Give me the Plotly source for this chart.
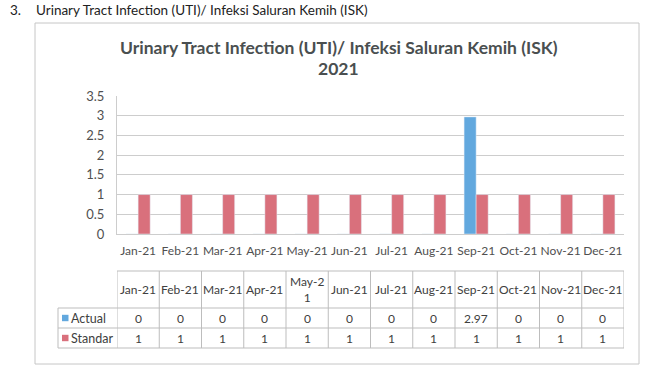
import plotly.graph_objects as go

months = ["Jan-21", "Feb-21", "Mar-21", "Apr-21", "May-21", "Jun-21",
          "Jul-21", "Aug-21", "Sep-21", "Oct-21", "Nov-21", "Dec-21"]
header_labels = ["Jan-21", "Feb-21", "Mar-21", "Apr-21", "May-2<br>1", "Jun-21",
                 "Jul-21", "Aug-21", "Sep-21", "Oct-21", "Nov-21", "Dec-21"]
actual = [0, 0, 0, 0, 0, 0, 0, 0, 2.97, 0, 0, 0]
standar = [1, 1, 1, 1, 1, 1, 1, 1, 1, 1, 1, 1]
series_names = ["Actual", "Standar"]
y_ticks = [0, 0.5, 1, 1.5, 2, 2.5, 3, 3.5]

W, H = 671, 374
BLUE = "#62a8de"
PINK = "#d9707c"
GRID = "#cdcdcd"
TXT = "#404040"
FONT = "Lato"


def px(x):
    return x / W


def py(y):
    return 1 - y / H


fig = go.Figure()
fig.add_trace(go.Bar(x=months, y=actual, name=series_names[0], marker_color=BLUE))
fig.add_trace(go.Bar(x=months, y=standar, name=series_names[1], marker_color=PINK))

shapes = []
annotations = []


def note(x, y, text, size, color=TXT, xanchor="center", xref="paper"):
    annotations.append(dict(x=x, xref=xref, y=y, yref="paper", text=text,
                            xanchor=xanchor, yanchor="middle", showarrow=False,
                            borderpad=0, font=dict(size=size, color=color, family=FONT)))


# outer chart border
shapes.append(dict(type="rect", xref="paper", yref="paper",
                   x0=px(35), x1=px(639), y0=py(23), y1=py(364),
                   line=dict(color="#c6c6c6", width=1)))

# data table
row_y = [271, 308, 328, 348]
tab_l, lab_l, tab_r = 117, 58, 624
line_c = "#bdbdbd"
shapes.append(dict(type="line", xref="paper", yref="paper", x0=px(tab_l), x1=px(tab_r),
                   y0=py(row_y[0]), y1=py(row_y[0]), line=dict(color=line_c, width=1)))
for yy in row_y[1:]:
    shapes.append(dict(type="line", xref="paper", yref="paper", x0=px(lab_l), x1=px(tab_r),
                       y0=py(yy), y1=py(yy), line=dict(color=line_c, width=1)))
shapes.append(dict(type="line", xref="paper", yref="paper", x0=px(lab_l), x1=px(lab_l),
                   y0=py(row_y[1]), y1=py(row_y[3]), line=dict(color=line_c, width=1)))
for i in range(len(months) + 1):
    shapes.append(dict(type="line", xref="x", yref="paper", x0=i - 0.5, x1=i - 0.5,
                       y0=py(row_y[0]), y1=py(row_y[3]), line=dict(color=line_c, width=1)))


def fmt(v):
    return ("%g" % v)


for i, m in enumerate(months):
    note(m, py((row_y[0] + row_y[1]) / 2), header_labels[i], 12, xref="x")
    note(m, py((row_y[1] + row_y[2]) / 2), fmt(actual[i]), 12, xref="x")
    note(m, py((row_y[2] + row_y[3]) / 2), fmt(standar[i]), 12, xref="x")

for k, (nm, col) in enumerate(zip(series_names, [BLUE, PINK])):
    yc = (row_y[k + 1] + row_y[k + 2]) / 2
    shapes.append(dict(type="rect", xref="paper", yref="paper", x0=px(62), x1=px(68.5),
                       y0=py(yc + 3.2), y1=py(yc - 3.2), fillcolor=col, line=dict(width=0)))
    note(px(70), py(yc), nm, 12.5, xanchor="left")

# titles
note(px(339), py(47), "<b>Urinary Tract Infection (UTI)/ Infeksi Saluran Kemih (ISK)</b>",
     17.5, color="#4a4f50")
note(px(339), py(69), "<b>2021</b>", 17.5, color="#4a4f50")
note(px(9), py(10), "3.", 13.5, color="#222222", xanchor="left")
note(px(35), py(10), "Urinary Tract Infection (UTI)/ Infeksi Saluran Kemih (ISK)", 13.5,
     color="#222222", xanchor="left")

fig.update_layout(
    width=W, height=H,
    margin=dict(l=0, r=0, t=0, b=0, autoexpand=False),
    paper_bgcolor="white", plot_bgcolor="white",
    barmode="group", bargap=0.43, bargroupgap=0,
    showlegend=False,
    shapes=shapes, annotations=annotations,
    font=dict(family=FONT, color="#595959", size=12),
    xaxis=dict(domain=[px(117), px(624)], type="category", categoryorder="array",
               categoryarray=months, range=[-0.5, 11.5], showgrid=False,
               showline=True, linecolor=GRID, ticks="", ticklen=0,
               ticklabelstandoff=6, tickangle=0,
               tickfont=dict(size=12, color="#505050", family=FONT)),
    yaxis=dict(domain=[py(234), py(96)], range=[0, 3.5], tickvals=y_ticks,
               ticktext=[fmt(v) for v in y_ticks], showgrid=True, gridcolor=GRID,
               showline=True, linecolor=GRID, zeroline=False, ticks="",
               ticklabelstandoff=9,
               tickfont=dict(size=13, color="#505050", family=FONT)),
)

fig.write_html("out.html", config={"displayModeBar": False},
               post_script="document.body.style.margin='0px';")
